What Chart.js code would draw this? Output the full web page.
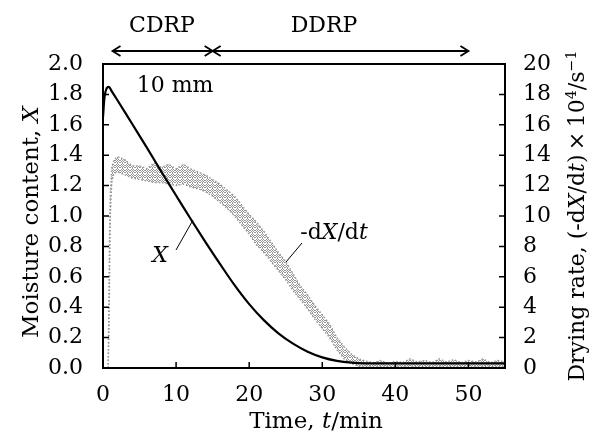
<!DOCTYPE html>
<html>
<head>
<meta charset="utf-8">
<script src="https://cdn.jsdelivr.net/npm/chart.js@4.4.1/dist/chart.umd.min.js"></script>
<style>
  body { margin: 0; background: #fff; }
  canvas { display: block; }
</style>
</head>
<body>
<canvas id="grafico" width="592" height="447"></canvas>
<script>
// moisture content X (left axis)
const tempoX = [0, 0.2, 0.5, 0.8, 1.2, 2, 4, 6, 8, 10, 12, 14, 16, 18, 20, 22, 24, 26, 28, 30, 32, 34, 36, 40, 45, 50, 55];
const umidade = [1.65, 1.78, 1.84, 1.85, 1.82, 1.76, 1.605, 1.45, 1.29, 1.135, 0.98, 0.83, 0.685, 0.545, 0.42, 0.315, 0.228, 0.16, 0.107, 0.07, 0.047, 0.035, 0.031, 0.03, 0.03, 0.03, 0.03];

// drying rate -dX/dt x 10^4 (right axis), upper and lower edge of the scattered band
const tempoTaxa = [0.7, 0.8, 0.9, 1.0, 1.2, 1.5, 2, 3, 4, 5, 6, 7, 8, 9, 10, 11, 12, 13, 14, 15, 16, 17, 18, 19, 20, 21, 22, 23, 24, 25, 26, 27, 28, 29, 30, 31, 32, 33, 34, 35, 36, 37, 38, 39, 40, 41, 42, 43, 44, 45, 46, 47, 48, 49, 50, 51, 52, 53, 54, 55];
const taxaMax = [0, 4, 9, 11.5, 13.2, 13.7, 13.9, 13.7, 13.3, 13.3, 13.1, 13.5, 13.2, 13.4, 13.1, 13.4, 13.1, 12.9, 12.7, 12.4, 12.1, 11.7, 11.3, 10.7, 10.1, 9.6, 9.0, 8.3, 7.6, 7.0, 6.2, 5.4, 4.8, 4.1, 3.5, 2.9, 2.0, 1.4, 0.9, 0.6, 0.45, 0.35, 0.5, 0.3, 0.45, 0.35, 0.6, 0.4, 0.5, 0.35, 0.6, 0.4, 0.55, 0.35, 0.5, 0.4, 0.6, 0.35, 0.5, 0.4];
const taxaMin = [0, 2, 6, 10, 12.2, 12.8, 12.9, 12.7, 12.5, 12.4, 12.3, 12.2, 12.2, 12.1, 12.0, 12.1, 11.9, 11.8, 11.6, 11.3, 10.9, 10.5, 10.0, 9.4, 8.8, 8.1, 7.6, 7.0, 6.4, 5.8, 5.1, 4.5, 3.9, 3.2, 2.6, 2.0, 1.2, 0.6, 0.3, 0.1, 0.1, 0.1, 0.1, 0.1, 0.1, 0.1, 0.1, 0.1, 0.1, 0.1, 0.1, 0.1, 0.1, 0.1, 0.1, 0.1, 0.1, 0.1, 0.1, 0.1];

const ticksX = [0, 10, 20, 30, 40, 50];
const ticksY = [0, 0.2, 0.4, 0.6, 0.8, 1.0, 1.2, 1.4, 1.6, 1.8, 2.0];
const ticksY1 = [0, 2, 4, 6, 8, 10, 12, 14, 16, 18, 20];

// periodos: CDRP de 1.3 a 15 min, DDRP de 15 a 50 min
const periodos = [
  { nome: "CDRP", ini: 1.3, fim: 15, xTexto: 162 },
  { nome: "DDRP", ini: 15, fim: 50, xTexto: 324 },
];

const FONTE = "'DejaVu Serif', serif";
const CINZA = "rgb(150,150,150)";

// textura de pontinhos cinza para a faixa da taxa
const pat = document.createElement("canvas");
pat.width = 5;
pat.height = 5;
const pctx = pat.getContext("2d");
pctx.fillStyle = CINZA;
[[0, 0], [2, 0], [3, 1], [1, 1], [4, 2], [0, 2], [2, 3], [1, 4], [3, 4], [4, 0], [2, 2]].forEach(([a, b]) => pctx.fillRect(a, b, 1, 1));
const textura = pctx.createPattern(pat, "repeat");

function textoRico(ctx, partes, x, y, tam) {
  // desenha partes com estilos diferentes centradas em x
  let total = 0;
  partes.forEach((p) => {
    const t = p.sup ? tam * 0.65 : tam;
    ctx.font = `${p.it ? "italic " : ""}${t}px ${FONTE}`;
    p.w = ctx.measureText(p.t).width;
    total += p.w;
  });
  let cx = x - total / 2;
  partes.forEach((p) => {
    const t = p.sup ? tam * 0.65 : tam;
    ctx.font = `${p.it ? "italic " : ""}${t}px ${FONTE}`;
    ctx.fillText(p.t, cx, p.sup ? y - tam * 0.38 : y);
    cx += p.w;
  });
}

const extras = {
  id: "extras",
  afterDraw(chart) {
    const ctx = chart.ctx;
    const a = chart.chartArea;
    const sx = chart.scales.x, sy = chart.scales.y, sy1 = chart.scales.y1;
    ctx.save();
    ctx.strokeStyle = "#000";
    ctx.fillStyle = "#000";

    // moldura
    ctx.lineWidth = 2;
    ctx.strokeRect(a.left, a.top, a.right - a.left, a.bottom - a.top);

    // ticks para dentro
    ctx.lineWidth = 1.5;
    ctx.beginPath();
    ticksX.forEach((v) => {
      const px = sx.getPixelForValue(v);
      ctx.moveTo(px, a.bottom);
      ctx.lineTo(px, a.bottom - 6);
    });
    ticksY.forEach((v) => {
      const py = sy.getPixelForValue(v);
      ctx.moveTo(a.left, py);
      ctx.lineTo(a.left + 6, py);
    });
    ticksY1.forEach((v) => {
      const py = sy1.getPixelForValue(v);
      ctx.moveTo(a.right + 1, py);
      ctx.lineTo(a.right - 6, py);
    });
    ctx.stroke();

    // setas CDRP / DDRP
    const ya = 51;
    ctx.lineWidth = 1.8;
    ctx.textBaseline = "alphabetic";
    ctx.textAlign = "left";
    periodos.forEach((p) => {
      const x1 = sx.getPixelForValue(p.ini);
      const x2 = sx.getPixelForValue(p.fim);
      ctx.beginPath();
      ctx.moveTo(x1, ya);
      ctx.lineTo(x2, ya);
      ctx.moveTo(x1 + 8, ya - 5);
      ctx.lineTo(x1, ya);
      ctx.lineTo(x1 + 8, ya + 5);
      ctx.moveTo(x2 - 8, ya - 5);
      ctx.lineTo(x2, ya);
      ctx.lineTo(x2 - 8, ya + 5);
      ctx.stroke();
      textoRico(ctx, [{ t: p.nome }], p.xTexto, 32, 22);
    });

    // rotulos dentro do grafico
    textoRico(ctx, [{ t: "10 mm" }], 175, 92, 22);
    textoRico(ctx, [{ t: "X", it: true }], 160, 262, 22);
    textoRico(ctx, [{ t: "-d" }, { t: "X", it: true }, { t: "/d" }, { t: "t", it: true }], 334, 239, 22);
    ctx.lineWidth = 1;
    ctx.beginPath();
    ctx.moveTo(176, 250);
    ctx.lineTo(193, 220);
    ctx.moveTo(302, 243);
    ctx.lineTo(286, 262);
    ctx.stroke();

    // titulos dos eixos
    textoRico(ctx, [{ t: "Time, " }, { t: "t", it: true }, { t: "/min" }], 316, 428, 23);

    ctx.save();
    ctx.translate(38, 222);
    ctx.rotate(-Math.PI / 2);
    textoRico(ctx, [{ t: "Moisture content, " }, { t: "X", it: true }], 0, 0, 23);
    ctx.restore();

    ctx.save();
    ctx.translate(584, 216);
    ctx.rotate(-Math.PI / 2);
    textoRico(ctx, [
      { t: "Drying rate, (-d" }, { t: "X", it: true }, { t: "/d" }, { t: "t", it: true },
      { t: ")\u2009\u00d7\u200910" }, { t: "4", sup: true }, { t: "/s" }, { t: "\u22121", sup: true },
    ], 0, 0, 22);
    ctx.restore();

    ctx.restore();
  },
};

const ctx = document.getElementById("grafico").getContext("2d");
const grafico = new Chart(ctx, {
  type: "line",
  data: {
    datasets: [
      {
        label: "X",
        data: tempoX.map((t, i) => ({ x: t, y: umidade[i] })),
        yAxisID: "y",
        borderColor: "#000",
        borderWidth: 2.2,
        pointRadius: 0,
        cubicInterpolationMode: "monotone",
        fill: false,
        order: 0,
      },
      {
        label: "max",
        data: tempoTaxa.map((t, i) => ({ x: t, y: taxaMax[i] })),
        yAxisID: "y1",
        borderColor: CINZA,
        borderWidth: 1.4,
        borderDash: [1.5, 2],
        pointRadius: 0,
        fill: false,
        order: 1,
      },
      {
        label: "min",
        data: tempoTaxa.map((t, i) => ({ x: t, y: taxaMin[i] })),
        yAxisID: "y1",
        borderColor: CINZA,
        borderWidth: 1.4,
        borderDash: [1.5, 2],
        pointRadius: 0,
        backgroundColor: textura,
        fill: "-1",
        order: 1,
      },
    ],
  },
  options: {
    responsive: false,
    animation: false,
    layout: { padding: { top: 64, left: 0, right: 0, bottom: 0 } },
    plugins: { legend: { display: false }, tooltip: { enabled: false } },
    scales: {
      x: {
        type: "linear",
        min: 0,
        max: 55,
        grid: { display: false },
        border: { display: false },
        afterBuildTicks: (s) => { s.ticks = ticksX.map((v) => ({ value: v })); },
        afterFit: (s) => { s.height = 79; },
        ticks: { color: "#000", padding: 6, font: { family: FONTE, size: 22 } },
      },
      y: {
        position: "left",
        min: 0,
        max: 2,
        grid: { display: false },
        border: { display: false },
        afterBuildTicks: (s) => { s.ticks = ticksY.map((v) => ({ value: v })); },
        afterFit: (s) => { s.width = 103; },
        ticks: {
          color: "#000",
          padding: 12,
          font: { family: FONTE, size: 22 },
          callback: (v) => Number(v).toFixed(1),
        },
      },
      y1: {
        position: "right",
        min: 0,
        max: 20,
        grid: { display: false },
        border: { display: false },
        afterBuildTicks: (s) => { s.ticks = ticksY1.map((v) => ({ value: v })); },
        afterFit: (s) => { s.width = 87; },
        ticks: { color: "#000", padding: 10, font: { family: FONTE, size: 22 } },
      },
    },
  },
  plugins: [extras],
});
</script>
</body>
</html>
